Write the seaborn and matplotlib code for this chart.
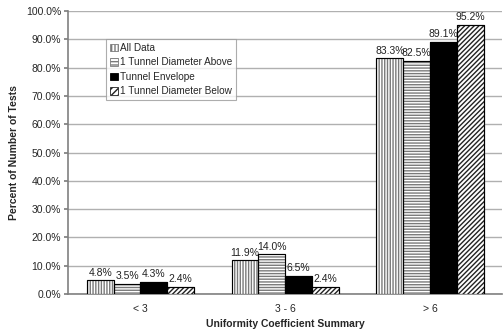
import matplotlib
matplotlib.use("Agg")
import matplotlib.pyplot as plt
import seaborn as sns
import pandas as pd
from matplotlib.patches import Patch
from matplotlib.ticker import FuncFormatter

categories = ["< 3", "3 - 6", "> 6"]
series = ["All Data", "1 Tunnel Diameter Above", "Tunnel Envelope", "1 Tunnel Diameter Below"]
all_data = [4.8, 11.9, 83.3]
above = [3.5, 14.0, 82.5]
envelope = [4.3, 6.5, 89.1]
below = [2.4, 2.4, 95.2]

values = [all_data, above, envelope, below]
rows = []
for s, vals in zip(series, values):
    for c, v in zip(categories, vals):
        rows.append({"cat": c, "series": s, "value": v})
df = pd.DataFrame(rows)

sns.set_theme(style="white")
plt.rcParams["font.family"] = ["Liberation Sans", "DejaVu Sans"]
plt.rcParams["hatch.linewidth"] = 1.0

fig = plt.figure(figsize=(5.04, 3.36), dpi=100)
ax = fig.add_axes([0.135, 0.125, 0.862, 0.842])

faces = ["white", "white", "black", "white"]
hatches = ["||||||", "------", "", "///////"]
hcolors = ["#7a7a7a", "#7a7a7a", "black", "#222222"]

sns.barplot(data=df, x="cat", y="value", hue="series", order=categories,
            hue_order=series, width=0.74, palette=["white"] * 4,
            edgecolor="black", linewidth=0.8, legend=False, ax=ax, zorder=3)

for i, cont in enumerate(ax.containers):
    for bar in cont:
        bar.set_facecolor(faces[i])
        bar.set_hatch(hatches[i])
        bar.set_edgecolor(hcolors[i])
        bar.set_linewidth(0.8)
    labels = [f"{v:.1f}%" for v in values[i]]
    ax.bar_label(cont, labels=labels, fontsize=7.5, padding=2, color="#222222")

# black outlines over hatched bars
for i, cont in enumerate(ax.containers):
    for bar in cont:
        x, y = bar.get_xy()
        ax.add_patch(plt.Rectangle((x, y), bar.get_width(), bar.get_height(),
                                   fill=False, edgecolor="black", linewidth=0.8, zorder=4))

ax.set_ylim(0, 100)
ax.set_xlim(-0.5, 2.5)
ax.set_yticks(range(0, 101, 10))
ax.yaxis.set_major_formatter(FuncFormatter(lambda v, p: f"{v:.1f}%"))
ax.grid(axis="y", color="#b0b0b0", linewidth=1.0, zorder=0)
ax.set_axisbelow(True)
for s in ["top", "right"]:
    ax.spines[s].set_visible(False)
ax.spines["left"].set_color("#808080")
ax.spines["bottom"].set_color("#808080")
ax.spines["left"].set_linewidth(1.2)
ax.spines["bottom"].set_linewidth(1.2)

ax.set_xticks([0, 1, 2])
ax.set_xticklabels(categories)
ax.set_xticks([0.5, 1.5], minor=True)
ax.tick_params(axis="x", which="major", length=0, labelsize=7.5, pad=7)
ax.tick_params(axis="x", which="minor", length=3, color="#808080", direction="out")
ax.tick_params(axis="y", length=3, color="#808080", labelsize=7.5, pad=2)
ax.tick_params(axis="y", which="major", left=True)

ax.set_xlabel("Uniformity Coefficient Summary", fontsize=7.5, fontweight="bold", labelpad=4)
ax.set_ylabel("Percent of Number of Tests", fontsize=7.5, fontweight="bold", labelpad=5)

leg_hatches = ["|||||", "-----", "", "/////"]
handles = [Patch(facecolor=faces[i], edgecolor=hcolors[i] if i != 2 else "black",
                 hatch=leg_hatches[i], linewidth=0.6) for i in range(4)]
leg = ax.legend(handles, series, loc="upper left", bbox_to_anchor=(0.088, 0.9),
                fontsize=7.2, frameon=True, fancybox=False, edgecolor="#999999",
                handlelength=0.8, handleheight=0.8, handletextpad=0.2,
                labelspacing=0.45, borderpad=0.35, borderaxespad=0)
leg.get_frame().set_linewidth(0.8)

fig.savefig("out.png", dpi=100)
